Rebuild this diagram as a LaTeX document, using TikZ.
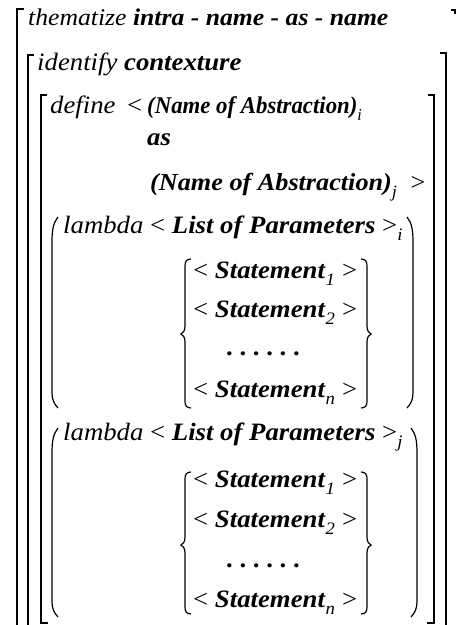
\documentclass[tikz,border=0pt]{standalone}
\usepackage{fontspec}
\setmainfont{Liberation Serif}[FakeStretch=1.07]
\newfontfamily\narrowfont{Liberation Serif}[FakeStretch=0.95]
\newcommand{\kw}[1]{\textit{#1}}
\newcommand{\nm}[1]{\textbf{\textit{#1}}}
\newcommand{\sub}[1]{\raisebox{-0.3ex}{\textsubscript{\textit{#1}}}}
\begin{document}
\begin{tikzpicture}[x=1pt, y=-1pt,
    line/.style={line width=1.2pt},
    txt/.style={anchor=base west, inner sep=0pt, font=\fontsize{25}{29}\selectfont},
    head/.style={txt, font=\fontsize{24}{29}\selectfont},
    narrow/.style={txt, font=\narrowfont\fontsize{24}{28}\selectfont}]
    \useasboundingbox (0,0) rectangle (456,625);
    \node [head] (thematize) at (28,25) {\kw{thematize} \nm{intra - name - as - name}};
    \node [txt] (identify) at (37,70) {\kw{identify} \nm{contexture}};
    \node [txt] (define) at (50,113) {\kw{define}};
    \node [txt] (defineLt) at (127,113) {<};
    \node [narrow] (nameI) at (147,113) {\nm{(Name of Abstraction)}\sub{i}};
    \node [txt] (as) at (147,145) {\nm{as}};
    \node [txt, font=\fontsize{24.5}{29}\selectfont] (nameJ) at (150,190) {\nm{(Name of Abstraction)}\sub{j}\ \ >};
    \node [txt] (lambdaI) at (63,233) {\kw{lambda} < \nm{List of Parameters} >\sub{i}};
    \node [txt] (stmtIa) at (193,278) {< \nm{Statement}\sub{1} >};
    \node [txt] (stmtIb) at (193,317) {< \nm{Statement}\sub{2} >};
    \node [txt] (dotsI) at (226,355) {\textbf{.\ .\ .\ .\ .\ .}};
    \node [txt] (stmtIn) at (193,397) {< \nm{Statement}\sub{n} >};
    \node [txt] (lambdaJ) at (63,440) {\kw{lambda} < \nm{List of Parameters} >\sub{j}};
    \node [txt] (stmtJa) at (193,487) {< \nm{Statement}\sub{1} >};
    \node [txt] (stmtJb) at (193,527) {< \nm{Statement}\sub{2} >};
    \node [txt] (dotsJ) at (226,567) {\textbf{.\ .\ .\ .\ .\ .}};
    \node [txt] (stmtJn) at (193,607) {< \nm{Statement}\sub{n} >};
    \draw [line] (24,9) -- (17,9) -- (17,640);
    \draw [line] (451,10) -- (456,10) (455,10) -- (455,14);
    \draw [line] (34,55) -- (28,55) -- (28,640);
    \draw [line] (440,53) -- (446,53) -- (446,640);
    \draw [line] (47,95) -- (41,95) -- (41,623) -- (48,623);
    \draw [line] (428,95) -- (434,95) -- (434,623) -- (427,623);
    \draw [line] (58,217) .. controls (53,223) and (52,231) .. (52,242) -- (52,393) .. controls (52,399) and (54,404) .. (58,408);
    \draw [line] (407,217) .. controls (412,223) and (413,231) .. (413,242) -- (413,393) .. controls (413,399) and (411,404) .. (407,408);
    \draw [line] (58,428) .. controls (53,434) and (52,442) .. (52,453) -- (52,602) .. controls (52,608) and (54,613) .. (58,617);
    \draw [line] (411,428) .. controls (416,434) and (417,442) .. (417,453) -- (417,602) .. controls (417,608) and (415,613) .. (411,617);
    \draw [line] (191,259) .. controls (186,259) and (185,262) .. (185,266) -- (185,326) .. controls (185,331) and (183,333) .. (181,334) .. controls (183,335) and (185,337) .. (185,342) -- (185,401) .. controls (185,405) and (186,408) .. (191,408);
    \draw [line] (361,259) .. controls (366,259) and (367,262) .. (367,266) -- (367,326) .. controls (367,331) and (369,333) .. (371,334) .. controls (369,335) and (367,337) .. (367,342) -- (367,401) .. controls (367,405) and (366,408) .. (361,408);
    \draw [line] (191,472) .. controls (186,472) and (185,475) .. (185,479) -- (185,537) .. controls (185,542) and (183,544) .. (181,545) .. controls (183,546) and (185,548) .. (185,553) -- (185,607) .. controls (185,611) and (186,614) .. (191,614);
    \draw [line] (361,472) .. controls (366,472) and (367,475) .. (367,479) -- (367,537) .. controls (367,542) and (369,544) .. (371,545) .. controls (369,546) and (367,548) .. (367,553) -- (367,607) .. controls (367,611) and (366,614) .. (361,614);
\end{tikzpicture}
\end{document}
